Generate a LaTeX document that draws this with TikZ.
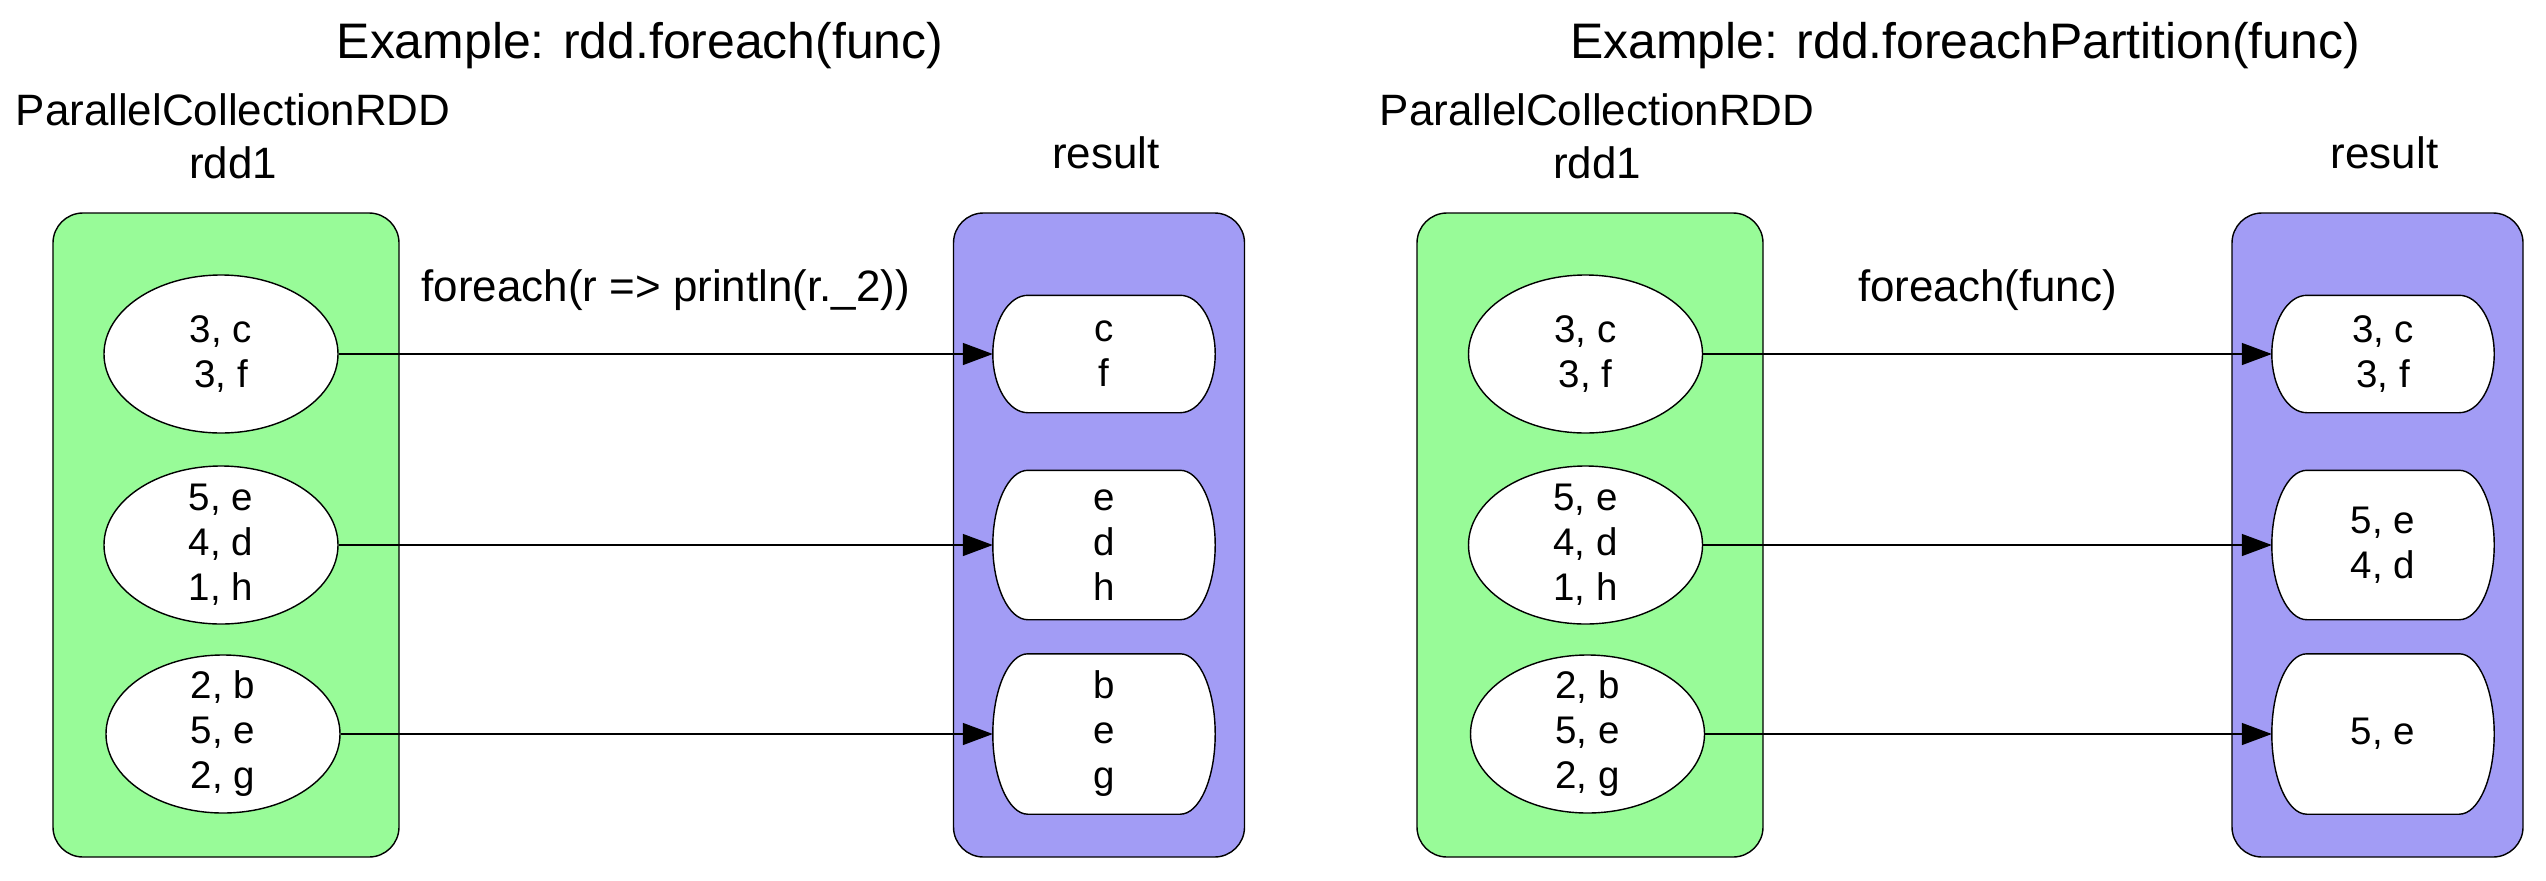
\documentclass[tikz,border=0pt]{standalone}
\usepackage{fontspec}
\setmainfont{Liberation Sans}
\usetikzlibrary{arrows.meta,positioning,shapes.geometric,calc}
\definecolor{rddgreen}{HTML}{98FB98}
\definecolor{respurple}{HTML}{A29CF5}
\pgfdeclarelayer{back}
\pgfdeclarelayer{mid}
\pgfsetlayers{back,mid,main}

% outline of a result partition, drawn under its text
\newcommand{\tapeoutline}[1]{%
  \begin{pgfonlayer}{mid}
  \draw[fill=white] let \p1=(#1.north west), \p2=(#1.south east), \n1={0.5*(\y1-\y2)} in
    ($(\x1,\y1)+(0.35,0)$) -- ($(\x2,\y1)+(-0.35,0)$)
    arc[start angle=90, end angle=-90, x radius=0.35cm, y radius=\n1]
    -- ($(\x1,\y2)+(0.35,0)$)
    arc[start angle=270, end angle=90, x radius=0.35cm, y radius=\n1] -- cycle;
  \end{pgfonlayer}}

\begin{document}
\begin{tikzpicture}[
  line width=0.75pt,
  titletext/.style={font=\fontsize{14.2}{17}\selectfont, inner sep=0pt, anchor=base},
  labeltext/.style={font=\fontsize{12.5}{15.1}\selectfont, inner sep=0pt, align=center},
  cluster/.style={draw, rounded corners=0.3cm, minimum height=6.44cm, inner sep=0pt},
  rddbox/.style={cluster, fill=rddgreen, minimum width=3.46cm},
  resbox/.style={cluster, fill=respurple, minimum width=2.91cm},
  partnode/.style={ellipse, draw, fill=white, minimum width=2.34cm, minimum height=1.58cm, inner xsep=-0.3cm, inner ysep=-0.3cm, align=center, font=\fontsize{10.95}{12.8}\selectfont},
  outnode/.style={rectangle, minimum width=2.21cm, inner sep=0pt, align=center, font=\fontsize{10.95}{12.8}\selectfont},
  flow/.style={-{Triangle[length=3mm,width=2.2mm]}},
  flowlabel/.style={labeltext, midway, above=0.43cm}
]
\useasboundingbox (0,0) rectangle (25.46,-8.80);

% ---- left: rdd.foreach(func) ----
\node[titletext] (titleA) at (6.40,-0.58) {Example: rdd.foreach(func)};

\begin{pgfonlayer}{back}
\node[rddbox] (rddA) at (2.26,-5.35) {};
\node[resbox] (resA) at (10.99,-5.35) {};
\end{pgfonlayer}
\node[labeltext, above=0.33cm of rddA, xshift=0.07cm] (rddAname) {ParallelCollectionRDD\\rdd1};
\node[labeltext, above=0.43cm of resA, xshift=0.07cm] (resAname) {result};

\node[partnode] (a1) at (2.21,-3.54) {3, c\\3, f};
\node[partnode] (a2) at (2.21,-5.45) {5, e\\4, d\\1, h};
\node[partnode] (a3) at (2.23,-7.34) {2, b\\5, e\\2, g};

\node[outnode, minimum height=1.16cm] (ra1) at (11.04,-3.54) {c\\f};
\node[outnode, minimum height=1.48cm] (ra2) at (11.04,-5.45) {e\\d\\h};
\node[outnode, minimum height=1.59cm] (ra3) at (11.04,-7.34) {b\\e\\g};
\tapeoutline{ra1}
\tapeoutline{ra2}
\tapeoutline{ra3}

\draw[flow] (a1) -- node[flowlabel] (fa) {foreach(r => println(r.\_2))} (ra1);
\draw[flow] (a2) -- (ra2);
\draw[flow] (a3) -- (ra3);

% ---- right: rdd.foreachPartition(func) ----
\node[titletext] (titleB) at (19.65,-0.58) {Example: rdd.foreachPartition(func)};

\begin{pgfonlayer}{back}
\node[rddbox] (rddB) at (15.90,-5.35) {};
\node[resbox] (resB) at (23.775,-5.35) {};
\end{pgfonlayer}
\node[labeltext, above=0.33cm of rddB, xshift=0.07cm] (rddBname) {ParallelCollectionRDD\\rdd1};
\node[labeltext, above=0.43cm of resB, xshift=0.07cm] (resBname) {result};

\node[partnode] (b1) at (15.855,-3.54) {3, c\\3, f};
\node[partnode] (b2) at (15.855,-5.45) {5, e\\4, d\\1, h};
\node[partnode] (b3) at (15.875,-7.34) {2, b\\5, e\\2, g};

\node[outnode, minimum height=1.16cm] (rb1) at (23.83,-3.54) {3, c\\3, f};
\node[outnode, minimum height=1.48cm] (rb2) at (23.83,-5.45) {5, e\\4, d};
\node[outnode, minimum height=1.59cm] (rb3) at (23.83,-7.34) {5, e};
\tapeoutline{rb1}
\tapeoutline{rb2}
\tapeoutline{rb3}

\draw[flow] (b1) -- node[flowlabel] (fb) {foreach(func)} (rb1);
\draw[flow] (b2) -- (rb2);
\draw[flow] (b3) -- (rb3);

\end{tikzpicture}
\end{document}
